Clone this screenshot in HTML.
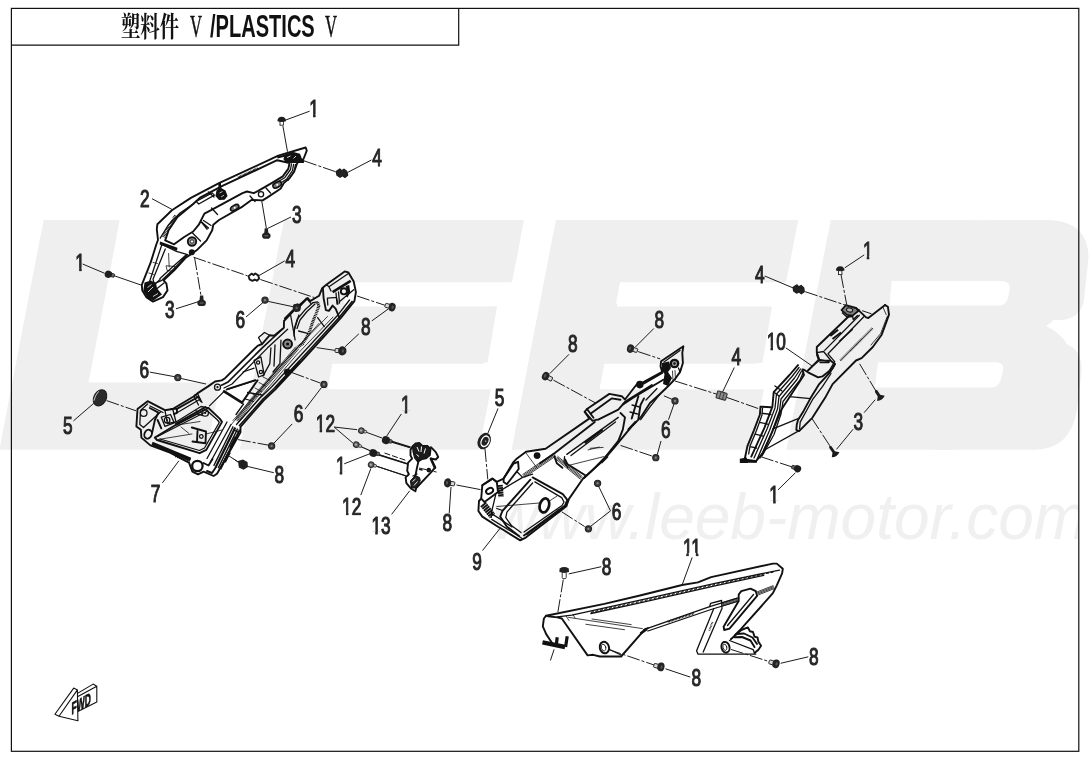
<!DOCTYPE html>
<html lang="zh">
<head>
<meta charset="utf-8">
<title>塑料件 V/PLASTICS V</title>
<style>
html,body{margin:0;padding:0;background:#fff;}
body{width:1090px;height:760px;overflow:hidden;position:relative;font-family:"Liberation Sans","Noto Sans CJK SC",sans-serif;}
svg{position:absolute;left:0;top:0;display:block;will-change:transform;}
.wm{font-family:"Liberation Sans",sans-serif;font-weight:bold;fill:#efefef;stroke:#efefef;stroke-linejoin:miter;}
.url{font-family:"Liberation Sans",sans-serif;font-style:italic;fill:#f0f0f0;}
.lb{font-family:"Liberation Sans",sans-serif;font-size:24px;fill:#262626;stroke:#262626;stroke-width:1.1;}
.p{fill:none;stroke:#111;stroke-width:1.3;stroke-linejoin:round;stroke-linecap:round;}
.pt{fill:none;stroke:#111;stroke-width:0.8;stroke-linejoin:round;stroke-linecap:round;}
.pk{fill:none;stroke:#111;stroke-width:1.9;stroke-linejoin:round;stroke-linecap:round;}
.ld{fill:none;stroke:#1c1c1c;stroke-width:1;}
.dd{fill:none;stroke:#1c1c1c;stroke-width:1;stroke-dasharray:13 2 3 2;}
.f{fill:#111;stroke:none;}
.w{fill:#fff;}
.title{position:absolute;left:120.6px;top:3px;height:46px;line-height:46px;white-space:nowrap;color:#111;will-change:transform;font-size:0;}
.title span{display:inline-block;transform-origin:0 50%;white-space:pre;vertical-align:baseline;line-height:46px;}
.t1{font-family:"Liberation Sans","Noto Serif CJK SC",serif;font-weight:700;font-size:28px;width:69.4px;transform:scaleX(0.69);}
.t2{font-family:"Liberation Serif",serif;font-size:32px;width:19.3px;transform:scaleX(0.52);-webkit-text-stroke:0.6px #111;}
.t3{font-family:"Liberation Sans",sans-serif;font-weight:bold;font-size:31px;width:115.3px;transform:scaleX(0.647);}
</style>
</head>
<body>
<svg width="1090" height="760" viewBox="0 0 1090 760">
<rect x="0" y="0" width="1090" height="760" fill="#fff"/>
<!-- 01_wm.svg -->
<g class="wm" font-size="100" stroke-width="3.98">
<g transform="translate(1.54,427.9) skewX(-10.9)">
<text transform="scale(4.131,2.9375)" x="-4.178 53.98 119.82 186.36" y="0">LEEB</text>
</g>
<g transform="translate(-1.54,443.9) skewX(-10.9)">
<text transform="scale(4.131,2.9375)" x="-4.178 53.98 119.82 186.36" y="0">LEEB</text>
</g>
</g>
<clipPath id="cu"><rect x="400" y="470" width="678.2" height="100"/></clipPath>
<text class="url" x="492" y="538.8" font-size="64" clip-path="url(#cu)">www.leeb-motor.com</text>
<!-- fine trims of the watermark letter shapes (bar ends / counters) -->
<path d="M985 220H1050Q1088.5 222 1088.5 258L1084 300Q1081 318 1062 320H1040V262H985ZM1040 342H1058Q1083 345 1081.5 372L1077 410Q1070 449.7 1035 449.7H935V425H1040Z" fill="#efefef"/>
<path d="M794 220L798.3 220L786 282.3L781.7 282.3Z" fill="#efefef"/>
<path d="M220.5 380L246 380L232 452L206.6 452Z" fill="#fff"/>
<path d="M491.4 386L506 386L493 452L478.6 452ZM764.5 386L779 386L766 452L751.7 452Z" fill="#fff"/>
<path d="M300 277L512.5 277L511.6 282.3L300 282.3ZM572 277L785.5 277L784.6 282.3L572 282.3Z" fill="#efefef"/>
<path d="M345.5 302.5L502 302.5L502 306.4L344.8 306.4ZM617.5 302.5L774 302.5L774 306.4L616.8 306.4Z" fill="#fff"/>
<path d="M80 382.6L219.6 382.6L218.2 390.5L78.6 390.5Z" fill="#efefef"/>
<path d="M888 275H1003V304H884ZM872 358H1004V392H866Z" fill="#efefef"/>
<path d="M891.6 281.1H1002Q1010.8 281.4 1009.6 290L1008 298Q1006.2 305.4 998.5 305.4H889.5ZM878 362.3H996Q1004.6 362.6 1003.2 371L1000.6 380Q998.6 387.6 991 387.6H874.8Z" fill="#fff"/>
<path d="M488 306.4L497 306.4L487.6 362.5L478.6 362.5ZM763 306.4L772 306.4L762.4 363L753.4 363Z" fill="#efefef"/>

<!-- 02_frame.svg -->
<g fill="none" stroke="#111" stroke-width="1.2">
<rect x="11.4" y="8.4" width="1067.4" height="742.9"/>
<path d="M11.4 45.2H458.7V8.4"/>
</g>

<!-- 10_part2.svg -->
<g id="part2">
<path class="pk" stroke-width="1.8" d="M305.7 147.5L278.3 155.7L219 183.1L190.9 197.9L171.9 210.2L157.4 224.2L156.8 229.2L158 240L156.3 244.5L150.7 262.4L141.8 284.8L142.3 290.4L146.3 297.1L153 301.6L163 297.1L167.5 290.4L166.4 283.7L163.6 280.3L174.2 270.3L185.4 258L192.1 253.4L197.6 249.4L206.6 240.4L212.2 230.3L213.3 224.7L219 220L242.5 206.6L251.5 199.9L262.6 200.4L267.1 197.6L280.5 188.7L283.9 183.1L289.5 178.1L294 171.9L297.3 163L303.5 159L306.8 150.7Z"/>
<path class="pk" stroke-width="1.7" d="M289.5 163L288.4 168.6L282.8 176.4L271.6 183.1L258.2 190.9L253.7 193.2L247 191.5L242.5 193.2L211.1 210.2L204.4 213.6L198.8 224.7L193.2 231.5L184.2 237L174.1 244.3L165.2 240.4L168.6 230.3L177.5 216.9L193.2 204L200 197.6L222.4 185.9L277.2 160.2L289.5 163"/>
<path class="p" stroke-width="1.2" d="M291.5 164L290.5 169.5L284.6 177.8L273 184.8M293.6 164.5L292.5 170.5L286.5 179.3L275 186.6M295.5 164.5L294.3 171L288 180.5"/>
<path class="p" stroke-width="1.4" d="M196 201.3L212.2 192.9L214.4 195.1L198.8 204Z"/>
<path d="M175.5 215.5L163 237.5" fill="none" stroke="#111" stroke-width="3" stroke-dasharray="0.8 0.7"/><path class="p" stroke-width="1.5" d="M193.2 204L180 213L168.6 224.7L160.2 238.2"/>
<path d="M238 177.6L258 168.2" fill="none" stroke="#111" stroke-width="2.2" stroke-dasharray="0.8 0.6"/>
<path class="p" stroke-width="1.6" d="M161.9 244.5L148.5 284.8M165.3 249L153 279.2L154.1 283.7L161.9 280.3L174.2 268.5L187.6 254.6M161.9 244.5L176.5 251.3L187.6 254.6M185.5 255.5L172.5 267L160 278.5"/>
<path class="pt" d="M168.6 253.5L169.2 266.9M166.4 265.8L175.3 266.5L173 271.4L167.5 270.5ZM153 262.4L157.5 263.6M148.8 273L153.5 274.4"/><path class="p" stroke-width="1.4" d="M208.4 192L214 197M211.5 208L217.5 214.5M201.5 222L208.5 228M203.5 220.5L211 225.5M192.5 233L200.5 241M250 196L255 201.5M266 188L270.5 193"/>
<path d="M201.5 222L207.5 229.5" fill="none" stroke="#111" stroke-width="1.6"/>
<path class="f" d="M144.5 282.5L151 280.5L156 283.2L157.1 288.4L162 294.5L153.4 300.5L148.2 298.4L143.3 291Z"/>
<path d="M147.5 287.5L151.5 284.5M148 292L153 287M153 296.5L158 293.5" stroke="#fff" stroke-width="0.8" fill="none"/>
<path class="p" stroke-width="1.4" d="M157.1 288.4L164 283M156 283.2L160 279.5"/>
<circle cx="192" cy="241.5" r="4.2" fill="#999" stroke="#111" stroke-width="1.9"/><circle cx="192" cy="241.5" r="1.7" fill="#fff" stroke="#111" stroke-width="0.9"/>
<circle cx="191.8" cy="252.2" r="3" class="f"/>
<path class="f" d="M160 241.5L177.5 247.8L177 250.8L159.6 244.5Z"/>
<path class="f" d="M218.2 183.6L220.9 182.4L221.2 188L225.5 190.5L227.6 196L224.5 199.8L219 200L215.4 196L216.5 190.5L218.6 188.4Z"/><path d="M219.5 193L222.5 191.5M221 197L224 195.2" stroke="#fff" stroke-width="0.7" fill="none"/>
<path class="f" d="M284.8 154.5L292.6 151.8L300 153.8L301.8 158.4L304.6 160.7L303.7 163L290.8 163L285.7 162.1L283.4 159.3Z"/><path d="M287 157.5L290.5 156M293.5 158.5L296 156" stroke="#fff" stroke-width="0.8" fill="none"/>
<path d="M277.3 157.5L287.5 155" fill="none" stroke="#111" stroke-width="2.2"/>
<circle cx="261" cy="194.3" r="2.6" class="p"/>
<ellipse cx="277.2" cy="184.8" rx="4.6" ry="2.6" transform="rotate(-30 277.2 184.8)" fill="#777" stroke="#111" stroke-width="1.6"/>
<ellipse cx="234.7" cy="207.7" rx="4.6" ry="2.4" transform="rotate(-30 234.7 207.7)" fill="#777" stroke="#111" stroke-width="1.6"/>
<circle cx="277.2" cy="184.8" r="1" fill="#fff"/><circle cx="234.7" cy="207.7" r="1" fill="#fff"/>
</g>

<!-- 11_part7.svg -->
<g id="part7">
<path class="pk" stroke-width="1.9" d="M344.7 271.4L348.4 272.5L353.7 281.5L355.9 292.1L354.4 301.1L341.1 317.6L304.5 358L275.4 389.4L264 400L240.5 426.8L240.5 432.4L217 473.8L213.6 476L203.6 471.6L198 474.4L192.4 471.6L189 462.6L170 452.6L150.4 445.4L141.4 437.6L140.9 429.7L136.4 426.4L137.5 409L147.6 401.2L164.9 410.2L172.7 409L194 396.2L197.4 393.4L208.5 386.1L215 381.5L221.7 380.4L225.1 378.2L257.6 345.8L262 344L269.6 335.3L274.1 335.7L283.9 327.8L284 321L297 307L307.8 298.1L310.1 301.1L319.1 295.8L322.1 288.3L326.6 284.6Z"/>
<!-- right rail: dark band + parallels -->
<path d="M352.5 301L339.5 317L303 357L274 388.5L262.5 399.5L239 426" fill="none" stroke="#111" stroke-width="1.5"/>
<path class="p" stroke-width="1.2" d="M349.5 300L337.2 315.8L300.5 355.5L271.5 387L260 398L236.5 424.5"/>
<path class="pt" d="M333 317L296.5 355L262 395L236.5 424.5M327.5 316.5L292 353L257.5 392.5L233 420.5M319 323.4L293.3 352.4L277.6 369.2L251.9 400.5L230 426"/>
<path d="M300 361L276 387.5" fill="none" stroke="#111" stroke-width="2.6"/>
<path d="M298.5 349.1L278.2 373.0L252.2 402.9L238.2 421.9M297.6 348.3L277.3 372.2L251.2 402.2L237.2 421.2M296.7 347.5L276.4 371.4L250.3 401.4L236.3 420.5M295.8 346.7L275.5 370.6L249.4 400.7L235.3 419.8" fill="none" stroke="#111" stroke-width="0.8"/>
<!-- top box -->
<path class="p" stroke-width="1.4" d="M328.9 286.8L347.7 274M353.7 289.8L340.2 301.1M326.6 284.6L328.9 286.8L331 291"/>
<path d="M332.6 292.1L350.7 280.8" fill="none" stroke="#111" stroke-width="2.6"/>
<path class="pk" stroke-width="2" d="M322.9 288.3L323.6 298.1L325.9 310.1L328.9 310.9L332.6 305.6L335.6 308.6L339.4 317.6"/>
<path class="p" stroke-width="1.4" d="M327.4 298.1L336.5 297.3L338 304M327.4 298.1L327.8 305M336 293L337 304M338.5 292L339.5 303"/>
<circle cx="343.9" cy="291.3" r="3.1" class="pk" stroke-width="1.6"/><path class="f" d="M345.6 286L349.2 285L350.2 292L347.6 297.5L345.8 296L347.5 291.5Z"/>
<!-- loop opening near top -->
<path class="p" stroke-width="1.5" d="M313.1 302.6L304.8 310.1L297.3 319L294.5 328L294.1 336M315 304L307 311.5L300 320L297 328.5"/>
<path d="M317.6 302.5L318.8 306L316 314L313.4 320L308.7 333.8L302.7 343.6L297.4 347.5" fill="none" stroke="#111" stroke-width="3" stroke-dasharray="1 0.7"/>
<path class="p" d="M313.1 302.6L317.6 301.8M317.6 317.6L324.3 326.6M298.6 331L307.5 333.3M306.3 298.1L311 303.5M290.6 315L295.1 339.8M298.9 315L294.4 330"/>
<path d="M295 308.6L284.5 319M306.3 299L297 309" fill="none" stroke="#111" stroke-width="2.2"/>
<path class="f" d="M293.5 304.5L298 303.2L301 306.5L300 311L295.5 312L293 309Z"/>
<!-- upper-left wall parallels -->
<path d="M283.1 328.5L262.8 347.3L228 382L221 385.5" fill="none" stroke="#111" stroke-width="1.7"/>
<path class="p" stroke-width="1.1" d="M287.6 329.3L267.3 348.1L232 384L224 388"/>
<path class="p" d="M269.6 335.3L264.5 332.5L258.5 337.5L262 344"/>
<!-- boss -->
<circle cx="287.6" cy="344" r="4.4" fill="#8a8a8a" stroke="#111" stroke-width="2"/><circle cx="287.6" cy="344" r="1.6" class="f"/>
<circle cx="287.3" cy="372.2" r="3.4" class="f"/>
<!-- plate -->
<path class="p" stroke-width="1.5" d="M254.1 360.3L260.9 356.9L264.2 374.8L258.6 377Z"/>
<circle cx="258.1" cy="362.5" r="1.6" class="p"/><circle cx="260.9" cy="372" r="1.6" class="p"/>
<path class="p" d="M243 372L254.1 368.1M226.2 389.9L255.3 380.4M270.9 348L269.8 363.6L263.1 375.9M281 340.1L279.9 363.6L273 372M275 345L274 366"/>
<path class="pt" d="M263 377L270 380.5M259 382.5L265.5 386M255 388L261.5 391.5M251 393L257 396.5"/>
<path d="M224.1 391.4L242 402.6" fill="none" stroke="#111" stroke-width="2.6" stroke-linecap="round"/>
<path class="pk" stroke-width="1.6" d="M242 402.6L257.6 380.2M227.4 389.1L255.4 380.2"/>
<path class="p" d="M224.1 391.4L209.5 405.9M243.5 404L236 414.5M247.6 392.5L262 395M245.5 399L253.5 401.5"/>
<!-- lower body -->
<path class="pk" stroke-width="1.6" d="M154.8 437.6L176 424.8L208.4 408L219.7 418.6L222 421.9L206.3 449.9L199.6 453.2L157 440Z"/>
<path class="p" d="M157.5 436.5L177 426.5L207.5 411L217.5 420L219.3 422.5L204.5 448L199.5 450.5L160 439"/>
<path class="p" stroke-width="1.5" d="M147.6 404L140.5 410.5L139.8 424.5L143.5 427.5M164.9 410.2L167.5 423.5M172.7 409L176 422M194 396.2L198.5 405M197.4 393.4L202 402.5M167.5 423.5L176 422L201 406.5L208.4 408M150 406L163 412.5M143.5 427.5L160.5 412"/>
<path class="pk" stroke-width="1.6" d="M176.9 408.9L198.1 397M176 423.7L205.5 407.1M171.4 408.9L176.9 408.9L177 412.8L174 414"/><path class="p" stroke-width="1.2" d="M177 412.8L200 399.3M194.5 395.1L198.1 397L200.5 401.5"/>
<path class="pk" stroke-width="2.4" d="M149.8 408L158.5 412.6M158 413.5L154.9 420L152.1 432.9M157.6 420L161.3 428.3"/><path class="p" stroke-width="1.5" d="M161.3 417.2L170.5 414.5L174.2 422.8L165 426.4Z"/>
<circle cx="143.7" cy="413" r="3.3" class="p" stroke-width="1.5"/><ellipse cx="148.1" cy="434.2" rx="3.6" ry="4.6" transform="rotate(25 148.1 434.2)" class="pk" stroke-width="1.7"/>
<circle cx="167.1" cy="420.2" r="2.8" class="p" stroke-width="1.5"/><circle cx="167.1" cy="420.2" r="1" class="f"/>
<circle cx="205.2" cy="413" r="3.2" class="p" stroke-width="1.5"/><circle cx="205.2" cy="413" r="1.1" class="f"/><path class="p" d="M202 415.5L197.5 414L196 410.5"/>
<circle cx="217.5" cy="387.2" r="3" class="p" stroke-width="1.5"/><circle cx="217.5" cy="387.2" r="1.1" class="f"/>
<path class="pt" d="M177 425L200 421.5M158 439.5L192 434M206 434L222 430M181 427L189 433.5"/>
<path class="pk" stroke-width="1.7" d="M191.8 427.5L206 431.5L205.5 443.2L192.5 441.5M197.5 431L197 442"/>
<circle cx="201.3" cy="436.5" r="1.8" class="p"/>
<!-- bottom dark band -->
<path d="M152 443.5L190.5 459.5" fill="none" stroke="#111" stroke-width="3.6"/>
<path d="M176 454.5L190 460.5" fill="none" stroke="#111" stroke-width="5.5" stroke-dasharray="1.1 1"/>
<circle cx="197.4" cy="466" r="5.2" fill="#fff" stroke="#111" stroke-width="2.2"/>
<path class="pk" stroke-width="1.8" d="M203.5 463L208.5 465.5L212.5 459M207 471L212 473L216 467"/>
<!-- right block -->
<path d="M239.8 429.7L220.3 469.2" fill="none" stroke="#111" stroke-width="2.0"/><path d="M237.7 428.6L218.2 468.1" fill="none" stroke="#111" stroke-width="1.4"/><path d="M235.3 427.4L215.8 466.9" fill="none" stroke="#111" stroke-width="2.2"/><path d="M233.2 426.4L213.7 465.9" fill="none" stroke="#111" stroke-width="1.3"/><path d="M236 437L230.5 448M229.5 452L224.5 462" stroke="#111" stroke-width="3" fill="none"/>
<path class="p" stroke-width="1.5" d="M231 424.5L210.5 462M227 422L207 458.5M234 430L238 432"/>
</g>

<!-- 12_part9.svg -->
<g id="part9">
<path class="pk" stroke-width="1.6" d="M683.4 346.2L682.3 352.9L682.9 363L680.1 371.9L674.5 379.7L667.8 386.5L660 394L650 403L640.7 417.4L631.7 426.4L614.4 447.4L602.6 461.1L582.9 478.7L569 498.9L566.3 506.3L525.8 537.6L520.2 540.4L503.6 530L498 526.7L482.3 516.6L478.4 511L479 501L481.2 498.7L482.3 485.3L492.4 478.6L496.8 481.9L503.6 478.6L513.6 461.8L517 458.4L526 451.7L545.6 448.8L589.2 418.6L584.7 411.8L587 409L609.4 393.9L621.7 396.2L625 399.5L636.2 385L639.8 384.2L662.2 371.9L660.5 366.3L661.1 361.3Z"/>
<!-- top plate -->
<circle cx="674.5" cy="363.5" r="3.7" fill="#9a9a9a" stroke="#111" stroke-width="2.3"/><circle cx="674.5" cy="363.5" r="1.2" class="f"/>
<path class="f" d="M662 363L669 361.5L671 368L668 372L672 378L668 386L663 384L664.5 374L661.5 370Z"/>
<path class="p" d="M664 362L680 350.5M678.5 368L680 372"/>
<path class="pt" d="M672.5 371L673 381M675 370.5L675.5 379.5"/>
<!-- upper arm -->
<path class="pk" stroke-width="2.2" d="M662.2 373L644 383.5M663.3 379.7L633.1 397.6L623 404.4"/>
<circle cx="639.8" cy="384.6" r="3.8" class="f"/>
<path class="pk" stroke-width="1.9" d="M651.9 385L625 401.8L618.3 409.6L598.2 419.7"/>
<!-- handle loop -->
<path class="pk" stroke-width="1.9" d="M591.5 413L611.6 398.4L620.5 399.8M584.7 411.8L592.6 420.8L597 419.7M587 409L593.5 417.8"/>
<!-- ridge lines -->
<path class="pk" stroke-width="1.7" d="M594.8 421.9L554.5 453.2L540 463.3M620.5 413L625 417.4L622.8 429.7L618.3 440.9L604.9 457.7L592.6 470L584 478"/>
<path class="p" stroke-width="1.4" d="M618.3 417.4L566.8 454.4M615.5 422L571 455.5"/>
<path d="M602.6 429.7L584.7 443.2" fill="none" stroke="#111" stroke-width="2.2"/>
<path class="pt" d="M588.1 449.9L599.3 447.1M570.2 465L603.8 456.6M590.2 448.3L603.1 447.4"/>
<path class="pk" stroke-width="1.7" d="M638.4 396.2L631.7 418.6M644 398.4L640.5 405L638.4 418.6"/>
<path class="p" stroke-width="1.4" d="M660 394L649.6 407.4L640.7 419.7M632 405L639.5 407M630 412L637.5 414M657 388.5L646 400"/>
<path d="M607.5 456L601 462.5" fill="none" stroke="#111" stroke-width="3"/>
<path d="M636 421.5L628 430" fill="none" stroke="#111" stroke-width="2.4"/>
<!-- lower body -->
<path class="pk" stroke-width="2" d="M482.3 485.3L492.4 478.6L496.8 481.9L498 492L484.5 502L481.2 498.7"/>
<ellipse cx="489.6" cy="490.9" rx="3.8" ry="2.6" transform="rotate(-30 489.6 490.9)" class="pk" stroke-width="1.7"/>
<path d="M500 485L501 497" fill="none" stroke="#111" stroke-width="5.5" stroke-dasharray="1.8 0.5"/>
<path d="M483 504L492.5 516" fill="none" stroke="#111" stroke-width="7" stroke-dasharray="1.9 0.5"/>
<path class="pk" stroke-width="1.6" d="M503.6 478.6L513.6 463.5L518.1 461.8L518.7 469L506.9 484.2L503.6 482Z"/>
<path class="p" d="M517 471.8L522.6 477.4L532.6 474.1M498 492L522.6 477.4"/>
<path d="M522.5 474.6L554.0 453.1M523.2 475.5L554.7 454.0M523.8 476.5L555.3 455.0M524.5 477.4L556.0 455.9" fill="none" stroke="#111" stroke-width="0.8"/>
<path d="M557.5 456.2L582.5 476.7M556.8 457.1L581.8 477.6M556.2 457.9L581.2 478.4M555.5 458.8L580.5 479.3" fill="none" stroke="#111" stroke-width="0.8"/>
<path class="pk" stroke-width="1.9" d="M532.6 477.4L562.8 494.2L567.3 499.8L565.1 505.4L524 535.5M530.4 479.7L502.4 511L500.2 516.6L506.9 526.7L519 536"/>
<path class="p" stroke-width="1.5" d="M534.9 481.9L561.7 497.6L564 502L562 505.5L524 532M532.6 483L506.9 512.1L505.8 517.7L511.4 525.5L521 532.5"/>
<ellipse cx="544.4" cy="505.4" rx="4.6" ry="7.2" transform="rotate(15 544.4 505.4)" fill="#fff" stroke="#111" stroke-width="2.7"/>
<path class="pt" d="M496.8 506.5L539.5 503M549.5 501L557.2 495.9"/>
<circle cx="537.1" cy="455.6" r="3.4" class="f"/>
<path class="pt" d="M526 453L537 468"/>
<path class="pk" stroke-width="1.5" d="M554.5 456.6L556.8 463.3L562.4 467.8M565.1 459.5L567.3 464L585.2 475.2"/>
<path class="p" d="M564.6 456.6L564 461.5L568 467.8"/>
<circle cx="558.4" cy="511" r="1.8" class="f"/>
<path class="p" stroke-width="1.5" d="M495.7 494.7L491.7 511.5L491.2 517.4M491.7 519.4L517.4 535.2L522 538.5M492.7 514.4L500 519L512 527M566 505.5L527 534.5M496.7 508.5L502.6 510.5"/>
</g>

<!-- 13_part10.svg -->
<g id="part10">
<!-- main body outline -->
<path class="pk" stroke-width="1.5" d="M885.1 305.1L887.9 306.8L889 314.6L886.2 322.4L881.7 334.7L872.8 347L861.6 358.2L856 360.5L832.6 384.1L825.9 396.4L812.5 417.6L799.1 431.1L796.3 429.9L796.8 424.4L798 419.9L803.6 410.9L810.3 398.6L819.2 384.1L830.4 371.8L834.9 364"/>
<path class="pk" stroke-width="1.5" d="M885.1 305.1L868.3 318L866.1 317.4L856 307.9M849.3 315.7L816.8 347L816.8 352.6L819.1 359.4L808 370.5"/>
<!-- boss box -->
<path d="M841.5 310.1L845.9 305.1L856 307.9L858.3 311L852.6 315.7L847 314.8Z" fill="#808080" stroke="#111" stroke-width="1.7" stroke-linejoin="round"/>
<ellipse cx="849.6" cy="310" rx="3.2" ry="2" transform="rotate(12 849.6 310)" fill="#b5b5b5" stroke="#111" stroke-width="1"/>
<path d="M842 312.5L847 317L853 316.5" fill="none" stroke="#111" stroke-width="1.3"/>
<path class="p" d="M852.6 315.7L853.2 319.5L857.5 315.5"/>
<!-- channel lines -->
<path class="p" d="M859.4 315.2L824.7 350.4M863.8 316.8L828 353.8L834.7 361.6L828 372.8M816.8 352.6L823.6 351.5L830.5 360M819.1 359.4L829.1 361.6"/>
<path d="M830.3 335.9L838.1 329.7M832.5 339L841 332.5" fill="none" stroke="#111" stroke-width="2"/>
<path d="M839.2 341.5L852.6 329.1" fill="none" stroke="#111" stroke-width="1.6"/>
<path d="M840.3 360.5L872.8 328" fill="none" stroke="#111" stroke-width="2.2" stroke-dasharray="0.8 0.6"/>
<path class="pt" d="M882.8 306.8L886.2 314.6M887.3 316.3L880.6 333.6L871 345"/>
<!-- step/notch -->
<path class="pk" stroke-width="1.6" d="M817 355L819.2 360.6L830.4 360.6L834.9 364L832.6 368.4L822.6 376.3L818.1 377.4L808 372.3L803.6 369.5"/>
<path class="p" d="M812.5 366.2L819.2 360.6M808 370.5L812.5 366.2M820 362.5L829 362.5"/>
<!-- inner line lower body -->
<path class="p" d="M831 373.5L822.6 386.3L812.5 399.7L800.2 422.1L799.6 428.8"/>
<!-- fin band -->
<path class="pk" stroke-width="2.2" d="M798 365.1L789.5 375L773.7 392.1L772.4 406.6L764.5 427.6L751.3 456.6"/>
<path class="pk" stroke-width="1.9" d="M802.4 369.5L804 375L781.6 409.2L768.4 440.8L763.2 452.6L755.3 461.8L746.7 461.8"/>
<path class="p" stroke-width="1.15" d="M799 367.5L792 376.5L776.5 394L775 408L767 429L754 458M800.5 369L794.5 378L779 396.5L777.5 409L769.5 430.5L757 459.5M801.5 371L797 379.5L781 399L779.5 411L772 432L760 458M803 373L800 380L783 401.5L781 414L774 434.5L762 456"/>
<path class="p" d="M773.7 392.1L779 396M775 386L782 391"/>
<!-- ladder -->
<path class="pk" stroke-width="1.7" d="M771.1 407.2L760.5 406.6L759.9 414.5L753.9 430.3L747.4 446.1L744.7 459.2"/>
<path class="p" d="M762.5 407.9L762 415L756.6 430.3L750 446L748.7 453.9M761.8 413.2L771 414.5M759.9 422.4L768.4 424.3M755.3 434.2L763.2 436.2M750 446.7L756.6 448"/>
<path class="f" d="M739.8 458.8L746.7 457.5L748 463L739.8 463Z"/><path d="M746 460L757 461.5" stroke="#111" stroke-width="2.4" fill="none"/>
<!-- connectors fin-body -->
<path class="p" d="M789.5 396.7L810.5 398.7M773 428.9L798.7 418.4M764.5 450L798.7 430.9"/>
</g>

<!-- 14_part11.svg -->
<g id="part11">
<!-- top edge -->
<path class="pk" stroke-width="1.5" d="M546.2 615.7L604.4 603.9L640 595.5L682.1 585L697.9 582.4L711.1 577.1L772.9 563.6L776.8 563.6L782.8 568.8L782.1 573.4L776.8 585.3L772.9 593.2L741.3 628.7L734.7 635.3"/>
<path class="p" d="M557.4 616.8L571.9 615.1L640 600.1L715 583.3L779.5 570.1M590.9 613.5L640 602.8L715 585.9L763.7 575.4"/>
<path d="M590.9 612.3L640 601.5L715 584.6L775 571.6" fill="none" stroke="#111" stroke-width="1.2" stroke-dasharray="3 1.6"/>
<!-- left end -->
<path class="pk" stroke-width="1.7" d="M546.2 615.7L543.9 618.5L542.8 626.3L546.2 634.1L552.9 644.2"/>
<path d="M542.5 642.4L565 647" fill="none" stroke="#111" stroke-width="4.4"/><path d="M557.2 637.2L556.3 645M567.2 636.2L565.6 647" fill="none" stroke="#111" stroke-width="3.2"/>
<!-- V edge -->
<path class="pk" stroke-width="2.7" d="M548 616.3L557.4 617.4L561.8 618.5L587.6 655.4L593.2 654.8L599.9 656.5L621.1 656.5L644.6 629.7L648 628"/>
<path class="pt" d="M568.6 617.4L642.4 628.6M592 619L631.2 624.6M585.9 624.3L624.5 629.7M566 616L569 620.5M573 614.5L575 618"/>
<ellipse cx="604.4" cy="647.6" rx="4.6" ry="5.8" transform="rotate(-15 604.4 647.6)" fill="#fff" stroke="#111" stroke-width="2"/>
<ellipse cx="603.6" cy="647.6" rx="2.2" ry="3.4" transform="rotate(-15 603.6 647.6)" class="pt"/>
<path class="p" d="M609.5 649.5L621 655"/>
<!-- lower rail -->
<path class="p" d="M643.9 629.7L709.7 606.7L737.4 598.2M647.9 631L711 609.5L737 601.5"/>
<path d="M667.6 621.8L693.9 613.3" fill="none" stroke="#111" stroke-width="2.2" stroke-dasharray="0.8 0.7"/>
<path d="M640.5 633.5L647 629" fill="none" stroke="#111" stroke-width="2.6"/>
<path class="p" d="M709.7 606.7L710.5 603.4L721.6 600.5L722 608.7"/>
<path d="M721.5 602.9L737.5 597.9M721.8 604.0L737.8 599.0M722.2 605.0L738.2 600.0M722.5 606.1L738.5 601.1" fill="none" stroke="#111" stroke-width="0.8"/><path d="M756.9 592.0L773.4 585.5M757.3 593.0L773.8 586.5M757.7 594.0L774.2 587.5M758.1 595.0L774.6 588.5" fill="none" stroke="#111" stroke-width="0.8"/>
<!-- strut -->
<path class="p" d="M713.7 608.7L696.6 650.8L697.9 654.1L703.2 654.1L755.8 654.1M721.6 609.3L703.2 652.1"/>
<path d="M712.5 622L709 631" fill="none" stroke="#111" stroke-width="1.8" stroke-dasharray="0.7 0.7"/>
<!-- slot loop -->
<path class="pk" stroke-width="2" d="M738.7 594.5L741.3 591.2L750.5 588.6L755.8 591.2L757.1 595.8L729.5 628.7L724.2 630L723.6 626.7L738.7 601.1Z"/>
<path class="p" d="M753.5 594.5L727.5 625.5"/>
<!-- gear -->
<path class="pk" stroke-width="1.5" d="M730.8 639.2L741.3 630L747.9 627.4L749.9 631.3L753 632L754.5 636.6L757.5 637.5L758.4 641.8L761.1 645.8L758.4 649.7L754.5 653"/>
<path class="pk" stroke-width="1.8" d="M734.7 637.2L742 637L750.5 640.5L754.5 647.1M736.5 634L744 633.5L752.5 637.5L757 644"/>
<path class="p" d="M729.5 640.5L753.2 649.7L754.5 653"/>
<ellipse cx="725.5" cy="647.3" rx="4" ry="5.4" transform="rotate(-15 725.5 647.3)" fill="#fff" stroke="#111" stroke-width="2"/>
<ellipse cx="724.9" cy="647.3" rx="1.9" ry="3.2" transform="rotate(-15 724.9 647.3)" class="pt"/>
</g>

<!-- 15_part13.svg -->
<g id="part13">
<path class="pk" stroke-width="1.5" d="M412.5 446.4L410.5 449.7L410.5 455.4L412.1 458.7L408.1 462.7L407.2 470.9L408.9 474.2L405.6 477.4L406.4 483.1L411.3 488.8L415.4 491.3L416.2 488L431.7 471.7L435 467.6"/>
<path d="M412.5 446L415.4 443.2L419.5 442.7L422.7 445.6L427.6 445.6L430.9 448.9L430.1 455.4L426 458.7L421.9 459.5L417.8 462L414.6 457.8L413 451.3Z" fill="#1a1a1a" stroke="#111" stroke-width="1.2" stroke-linejoin="round"/>
<path d="M417 447L419 451.5M421.5 446.5L421 452M425.5 448.5L424 453.5M416.5 454.5L419 456.5" stroke="#fff" stroke-width="1" fill="none"/>
<path class="pk" stroke-width="1.6" d="M430.9 447.2L435.8 452.1L438.2 457L435.8 459.5L431.7 458.7"/>
<path d="M430.9 458.7L435 467.6" fill="none" stroke="#111" stroke-width="2.6" stroke-linecap="round"/>
<path class="pk" stroke-width="1.9" d="M418.7 460.3L417 467.6L415.4 475.8L411.3 482.3"/>
<path class="p" d="M419.5 469.3L422 470M413 476L417 474"/>
<path d="M410.5 480.7L415.4 475.8L419.5 477.4L420.3 480.7L416.2 488L411.3 488Z" fill="#222" stroke="#111" stroke-width="1"/>
<path d="M412.5 481.5L415.5 479M414 485.5L417.5 481.5" stroke="#fff" stroke-width="0.9" fill="none"/>
<circle cx="428.8" cy="470.1" r="2.3" class="f"/>
<path class="dd" d="M419 468L437.6 472.3" stroke-dasharray="5 2"/>
<path d="M390.3 441.3L410.5 447.4" stroke="#111" stroke-width="2" fill="none"/>
<path d="M379.1 454.9L407.1 463.8" stroke="#111" stroke-width="1.6" fill="none"/>
<path d="M384.5 453L407.1 460.8" stroke="#111" stroke-width="1" stroke-dasharray="6 2" fill="none"/>
<path d="M359.5 446L370.2 450.8M375.8 465.9L406 475.9" stroke="#111" stroke-width="1.1" fill="none"/>
</g>

<!-- 16_fwd.svg -->
<g id="fwd">
<path d="M54.9 714.3L73.7 688.1L77.4 689.9L59 716.2ZM59 716.2L77.4 689.9L77.9 720.8ZM77.9 693.1L93.1 684.1L96.8 686.2L77.9 696.6M96.8 686.2L96.8 701.9L77.9 711.6" fill="none" stroke="#111" stroke-width="1.1" stroke-linejoin="round"/>
<text transform="translate(71.6,714.8) skewY(-29) scale(0.5,1)" font-family="'Liberation Sans',sans-serif" font-weight="bold" font-size="17" fill="#111" stroke="#111" stroke-width="0.7">FWD</text>
</g>

<!-- 40_leaders.svg -->
<path class="ld" d="M309.6 111.2L284.7 120.4M282.9 126.0L287.5 151.7M152.0 198.7L172.4 209.7M291.0 217.0L267.5 228.5M261.7 200.5L266.3 228.0M371.4 160.0L347.5 172.5M82.6 264.0L104.7 273.3M114.0 275.7L141.5 285.2M284.7 260.9L258.9 275.6M176.0 308.8L198.0 301.8M246.0 317.0L263.0 302.5M268.1 301.4L293.9 306.9M371.8 320.9L388.4 308.9M358.9 333.8L345.1 346.7M316.6 347.6L335.0 350.4M149.8 372.1L174.7 376.7M181.1 378.5L206.0 384.0M73.4 420.9L93.7 403.4M162.4 482.9L178.9 460.8M273.8 472.7L247.0 466.3M237.9 461.7L227.7 455.2M292.2 423.9L273.8 443.3M305.0 409.2L321.5 387.5M334.1 427.0L357.1 429.7M334.1 427.0L353.4 443.5M401.3 414.0L386.6 436.2M390.2 441.1L410.5 447.8M364.5 431.6L382.0 438.0M344.2 463.8L370.0 453.7M379.2 454.6L406.8 463.8M360.8 495.1L370.9 468.4M374.6 465.6L405.9 475.8M391.6 514.4L409.7 490.8M498.0 408.5L487.8 433.4M449.2 513.5L451.0 486.8M456.5 485.0L480.5 489.6M482.5 550.5L500.0 528.4M610.5 510.9L598.5 486.0M610.5 510.9L591.0 526.0M601.3 566.7L568.8 573.9M569.0 354.3L549.7 373.7M653.8 328.5L635.4 347.0M668.5 419.7L674.0 404.0M734.3 367.5L722.4 392.4M764.7 276.0L793.3 288.0M864.2 254.9L844.8 267.8M785.9 347.9L812.6 366.3M864.2 412.6L875.2 399.7M853.1 429.2L836.5 449.4M778.0 489.9L795.5 472.7M692.2 557.4L682.1 585.0M661.0 441.0L657.3 454.5M690.3 677.1L665.5 668.8M808.3 656.8L780.6 663.3"/>
<path class="dd" d="M304.2 160.9L336.4 172.0M193.5 257.2L247.5 275.8M260.4 279.5L314.2 297.5M194.5 257.2L200.9 295.0M357.1 296.0L384.7 305.2M291.7 372.5L320.2 383.0M106.6 400.6L136.0 410.8M237.9 439.6L268.2 445.1M485.0 449.0L487.8 479.4M553.4 380.1L595.8 403.1M638.1 351.6L660.2 358.9M663.9 395.8L672.2 399.4M675.0 381.0L716.8 394.2M727.0 397.5L759.2 408.9M561.7 511.8L584.7 526.6M841.1 275.1L846.7 304.6M805.2 291.7L871.5 313.8M859.6 363.8L876.1 391.4M811.7 418.1L831.0 447.6M761.0 456.8L792.3 467.0M563.3 579.5L557.8 612.6M620.5 445.4L651.9 456.0M554.1 649.4L550.4 660.5M608.4 649.4L654.4 665.1M730.9 649.4L768.7 661.4"/>
<!-- 45_fasteners.svg -->
<g id="fasteners">
<g transform="translate(545.6,376.1) rotate(28)"><rect x="2" y="-2" width="5.2" height="4" rx="0.8" fill="#d8d8d8" stroke="#222" stroke-width="0.9"/><ellipse cx="0" cy="0" rx="3.5" ry="4.3" fill="#242424"/><ellipse cx="-0.6" cy="0" rx="1.1" ry="1.8" fill="#555"/></g>
<g transform="translate(630.5,348.6) rotate(17)"><rect x="2" y="-2" width="5.2" height="4" rx="0.8" fill="#d8d8d8" stroke="#222" stroke-width="0.9"/><ellipse cx="0" cy="0" rx="3.5" ry="4.3" fill="#242424"/><ellipse cx="-0.6" cy="0" rx="1.1" ry="1.8" fill="#555"/></g>
<g transform="translate(447.6,482.8) rotate(10)"><rect x="2" y="-2" width="5.2" height="4" rx="0.8" fill="#d8d8d8" stroke="#222" stroke-width="0.9"/><ellipse cx="0" cy="0" rx="3.6" ry="4.6" fill="#242424"/><ellipse cx="-0.6" cy="0" rx="1.1" ry="1.8" fill="#555"/></g>
<g transform="translate(392.1,307.1) rotate(196)"><rect x="2" y="-2" width="5.2" height="4" rx="0.8" fill="#d8d8d8" stroke="#222" stroke-width="0.9"/><ellipse cx="0" cy="0" rx="3.5" ry="4.3" fill="#242424"/><ellipse cx="-0.6" cy="0" rx="1.1" ry="1.8" fill="#555"/></g>
<g transform="translate(342.3,350.9) rotate(184)"><rect x="2" y="-2" width="5.2" height="4" rx="0.8" fill="#d8d8d8" stroke="#222" stroke-width="0.9"/><ellipse cx="0" cy="0" rx="4.2" ry="4.6" fill="#242424"/><ellipse cx="-0.6" cy="0" rx="1.1" ry="1.8" fill="#555"/></g>
<g transform="translate(660.9,666.9) rotate(193)"><rect x="2" y="-2" width="5.2" height="4" rx="0.8" fill="#d8d8d8" stroke="#222" stroke-width="0.9"/><ellipse cx="0" cy="0" rx="3.6" ry="4.4" fill="#242424"/><ellipse cx="-0.6" cy="0" rx="1.1" ry="1.8" fill="#555"/></g>
<g transform="translate(776.0,663.8) rotate(197)"><rect x="2" y="-2" width="5.2" height="4" rx="0.8" fill="#d8d8d8" stroke="#222" stroke-width="0.9"/><ellipse cx="0" cy="0" rx="3.6" ry="4.4" fill="#242424"/><ellipse cx="-0.6" cy="0" rx="1.1" ry="1.8" fill="#555"/></g>
<path d="M238 461L243 459.5L247.5 462L248 467L243.5 469.8L238.8 467.5Z" fill="#1e1e1e"/><path d="M233.5 458.8L238.5 462.5" stroke="#222" stroke-width="1"/>
<g transform="translate(564.2,569.3)"><rect x="-2" y="2.5" width="4" height="6.8" rx="1" fill="#fff" stroke="#222" stroke-width="0.9"/><path d="M-4.8 2.8L-4.6 -0.8Q0 -3.6 4.6 -0.8L4.8 2.8Q0 4.4 -4.8 2.8Z" fill="#222"/></g>
<circle cx="265.0" cy="300.1" r="3.1" fill="#3c3c3c" stroke="#222" stroke-width="1.1"/><circle cx="265.0" cy="300.1" r="1.1" fill="#8a8a8a"/>
<circle cx="177.8" cy="377.6" r="3.1" fill="#3c3c3c" stroke="#222" stroke-width="1.1"/><circle cx="177.8" cy="377.6" r="1.1" fill="#8a8a8a"/>
<circle cx="271.6" cy="446.0" r="3.1" fill="#3c3c3c" stroke="#222" stroke-width="1.1"/><circle cx="271.6" cy="446.0" r="1.1" fill="#8a8a8a"/>
<circle cx="323.9" cy="384.4" r="3.1" fill="#3c3c3c" stroke="#222" stroke-width="1.1"/><circle cx="323.9" cy="384.4" r="1.1" fill="#8a8a8a"/>
<circle cx="597.6" cy="483.3" r="3.1" fill="#3c3c3c" stroke="#222" stroke-width="1.1"/><circle cx="597.6" cy="483.3" r="1.1" fill="#8a8a8a"/>
<circle cx="588.4" cy="528.8" r="3.1" fill="#3c3c3c" stroke="#222" stroke-width="1.1"/><circle cx="588.4" cy="528.8" r="1.1" fill="#8a8a8a"/>
<circle cx="675.0" cy="400.9" r="3.1" fill="#3c3c3c" stroke="#222" stroke-width="1.1"/><circle cx="675.0" cy="400.9" r="1.1" fill="#8a8a8a"/>
<circle cx="655.8" cy="457.7" r="3.1" fill="#3c3c3c" stroke="#222" stroke-width="1.1"/><circle cx="655.8" cy="457.7" r="1.1" fill="#8a8a8a"/>
<circle cx="296.6" cy="307.9" r="3.3" fill="#2a2a2a" stroke="#222" stroke-width="1.1"/><circle cx="296.6" cy="307.9" r="1.1" fill="#666"/>
<g transform="translate(108.4,274.2) rotate(15)"><rect x="2" y="-1.7" width="4.2" height="3.4" rx="0.7" fill="#666" stroke="#222" stroke-width="0.8"/><circle cx="0" cy="0" r="3.7" fill="#1e1e1e"/></g>
<g transform="translate(385.9,440.1) rotate(15)"><rect x="2" y="-1.7" width="4.2" height="3.4" rx="0.7" fill="#666" stroke="#222" stroke-width="0.8"/><circle cx="0" cy="0" r="4.0" fill="#1e1e1e"/></g>
<g transform="translate(373.2,453.0) rotate(10)"><rect x="2" y="-1.7" width="4.2" height="3.4" rx="0.7" fill="#666" stroke="#222" stroke-width="0.8"/><circle cx="0" cy="0" r="3.9" fill="#1e1e1e"/></g>
<g transform="translate(797.6,468.8) rotate(200)"><rect x="2" y="-1.7" width="4.2" height="3.4" rx="0.7" fill="#666" stroke="#222" stroke-width="0.8"/><circle cx="0" cy="0" r="3.6" fill="#1e1e1e"/></g>
<g transform="translate(281.7,119.6)"><rect x="-1.7" y="1" width="3.4" height="4.6" fill="#fff" stroke="#222" stroke-width="0.9"/><path d="M-4.3 1.6Q-4.2 -2.6 0 -2.8Q4.2 -2.6 4.3 1.6Q0 3 -4.3 1.6Z" fill="#1e1e1e"/></g>
<g transform="translate(840.2,269.0)"><rect x="-1.7" y="1" width="3.4" height="4.6" fill="#fff" stroke="#222" stroke-width="0.9"/><path d="M-4.3 1.6Q-4.2 -2.6 0 -2.8Q4.2 -2.6 4.3 1.6Q0 3 -4.3 1.6Z" fill="#1e1e1e"/></g>
<g transform="translate(266.3,233.6)"><path d="M-1.6 -5.4L1.6 -5.4L2 -1L4.2 0.8L4.2 3.4L2.6 5.2L-2.6 5.2L-4.2 3.4L-4.2 0.8L-2 -1Z" fill="#222"/><path d="M-2 2.2L2 2.2" stroke="#888" stroke-width="0.8"/></g>
<g transform="translate(201.6,300.8)"><path d="M-1.6 -5.4L1.6 -5.4L2 -1L4.2 0.8L4.2 3.4L2.6 5.2L-2.6 5.2L-4.2 3.4L-4.2 0.8L-2 -1Z" fill="#222"/><path d="M-2 2.2L2 2.2" stroke="#888" stroke-width="0.8"/></g>
<g transform="translate(875.2,389.8) rotate(56.5)"><path d="M0 0L1.6 -1.4L6.9 -1.5L10.3 -4.6Q13.1 0 10.3 4.6L6.9 1.5L1.6 1.4Z" fill="#1c1c1c"/></g>
<g transform="translate(829.4,445.6) rotate(56.0)"><path d="M0 0L1.6 -1.4L7.7 -1.5L11.1 -4.6Q13.9 0 11.1 4.6L7.7 1.5L1.6 1.4Z" fill="#1c1c1c"/></g>
<g transform="translate(342.0,173.2) rotate(20) scale(1.00)"><path d="M-6 0.5L-3.5 -3.2L-1 -2.2L0.5 -4.4L4 -3.2L6 0L4.2 3L1.5 2.2L-0.5 4.4L-4 3.6Z" fill="#222" stroke="#1e1e1e" stroke-width="1.3" stroke-linejoin="round"/></g>
<g transform="translate(253.9,277.2) rotate(15) scale(0.9)"><path d="M-6 0.5L-3.5 -3.2L-1 -2.2L0.5 -4.4L4 -3.2L6 0L4.2 3L1.5 2.2L-0.5 4.4L-4 3.6Z" fill="#fff" stroke="#1a1a1a" stroke-width="2.1" stroke-linejoin="round"/></g>
<g transform="translate(798.8,289.3) rotate(25) scale(1.00)"><path d="M-6 0.5L-3.5 -3.2L-1 -2.2L0.5 -4.4L4 -3.2L6 0L4.2 3L1.5 2.2L-0.5 4.4L-4 3.6Z" fill="#222" stroke="#1e1e1e" stroke-width="1.3" stroke-linejoin="round"/></g>
<g transform="translate(721.6,395.6) rotate(15)"><rect x="-5" y="-3.6" width="10" height="7.2" rx="1" fill="#8a8a8a" stroke="#333" stroke-width="1.1"/><path d="M-1.5 -3.6V3.6M1.8 -3.6V3.6" stroke="#333" stroke-width="0.8"/></g>
<g transform="translate(100.0,397.8) rotate(28)"><ellipse cx="0" cy="0" rx="6.2" ry="8.6" fill="#2b2b2b" stroke="#1a1a1a" stroke-width="1"/><path d="M-4.2 -5Q-5.6 0 -4 5.4" fill="none" stroke="#ddd" stroke-width="0.8"/></g>
<g transform="translate(484.2,441.1) rotate(25)"><ellipse cx="0" cy="0" rx="6.3" ry="8.6" fill="#222"/><ellipse cx="0.9" cy="-0.2" rx="4.4" ry="6.2" fill="#fff"/><ellipse cx="0.9" cy="-0.2" rx="3.1" ry="4.7" fill="#222"/><circle cx="1.3" cy="-0.6" r="0.8" fill="#aaa"/></g>
<g transform="translate(361.3,430.6) rotate(15)"><rect x="1.8" y="-1.3" width="3.6" height="2.6" rx="0.6" fill="#ccc" stroke="#333" stroke-width="0.8"/><circle cx="0" cy="0" r="2.8" fill="#666" stroke="#2a2a2a" stroke-width="1"/><circle cx="-0.3" cy="0" r="1" fill="#bbb"/></g>
<g transform="translate(356.2,444.6) rotate(20)"><rect x="1.8" y="-1.3" width="3.6" height="2.6" rx="0.6" fill="#ccc" stroke="#333" stroke-width="0.8"/><circle cx="0" cy="0" r="2.8" fill="#666" stroke="#2a2a2a" stroke-width="1"/><circle cx="-0.3" cy="0" r="1" fill="#bbb"/></g>
<g transform="translate(371.1,464.7) rotate(15)"><rect x="1.8" y="-1.3" width="3.6" height="2.6" rx="0.6" fill="#ccc" stroke="#333" stroke-width="0.8"/><circle cx="0" cy="0" r="2.8" fill="#666" stroke="#2a2a2a" stroke-width="1"/><circle cx="-0.3" cy="0" r="1" fill="#bbb"/></g>
</g>
<!-- 50_labels.svg -->
<clipPath id="c1"><path d="M-20 -30H20V-2.75H2.1V1H-1.25V-2.75H-20Z"/></clipPath><clipPath id="c1x"><path d="M-20 -30H20V1H0V-2.75H-4.6V1H-7.9V-2.75H-20Z"/></clipPath><clipPath id="c11"><path d="M-20 -30H20V-2.75H8.8V1H5.4V-2.75H-4.6V1H-7.9V-2.75H-20Z"/></clipPath>
<g class="lb" text-anchor="middle">
<text transform="translate(314.0,116.8) scale(0.72,1)" clip-path="url(#c1)">1</text>
<text transform="translate(377.0,165.6) scale(0.72,1)">4</text>
<text transform="translate(144.7,207.1) scale(0.72,1)">2</text>
<text transform="translate(296.7,222.9) scale(0.72,1)">3</text>
<text transform="translate(80.1,270.6) scale(0.72,1)" clip-path="url(#c1)">1</text>
<text transform="translate(290.2,266.5) scale(0.72,1)">4</text>
<text transform="translate(169.9,318.2) scale(0.72,1)">3</text>
<text transform="translate(240.3,327.8) scale(0.72,1)">6</text>
<text transform="translate(365.8,334.8) scale(0.72,1)">8</text>
<text transform="translate(144.3,377.7) scale(0.72,1)">6</text>
<text transform="translate(67.9,433.9) scale(0.72,1)">5</text>
<text transform="translate(298.6,422.2) scale(0.72,1)">6</text>
<text transform="translate(155.5,502.2) scale(0.72,1)">7</text>
<text transform="translate(279.3,483.0) scale(0.72,1)">8</text>
<text transform="translate(325.4,431.7) scale(0.72,1)" clip-path="url(#c1x)">12</text>
<text transform="translate(405.7,413.2) scale(0.72,1)" clip-path="url(#c1)">1</text>
<text transform="translate(340.7,474.1) scale(0.72,1)" clip-path="url(#c1)">1</text>
<text transform="translate(351.7,514.5) scale(0.72,1)" clip-path="url(#c1x)">12</text>
<text transform="translate(381.0,534.2) scale(0.72,1)" clip-path="url(#c1x)">13</text>
<text transform="translate(447.3,530.8) scale(0.72,1)">8</text>
<text transform="translate(499.5,406.2) scale(0.72,1)">5</text>
<text transform="translate(477.0,570.0) scale(0.72,1)">9</text>
<text transform="translate(616.5,520.2) scale(0.72,1)">6</text>
<text transform="translate(572.7,351.7) scale(0.72,1)">8</text>
<text transform="translate(659.3,327.7) scale(0.72,1)">8</text>
<text transform="translate(665.7,438.2) scale(0.72,1)">6</text>
<text transform="translate(736.2,365.2) scale(0.72,1)">4</text>
<text transform="translate(759.7,282.6) scale(0.72,1)">4</text>
<text transform="translate(867.7,258.7) scale(0.72,1)" clip-path="url(#c1)">1</text>
<text transform="translate(776.3,349.8) scale(0.72,1)" clip-path="url(#c1x)">10</text>
<text transform="translate(858.2,430.0) scale(0.72,1)">3</text>
<text transform="translate(774.1,503.2) scale(0.72,1)" clip-path="url(#c1)">1</text>
<text transform="translate(692.0,555.6) scale(0.72,1)" clip-path="url(#c11)">11</text>
<text transform="translate(606.6,575.2) scale(0.72,1)">8</text>
<text transform="translate(696.4,686.4) scale(0.72,1)">8</text>
<text transform="translate(813.8,665.2) scale(0.72,1)">8</text>
</g>
</svg>
<div class="title"><span class="t1">塑料件 </span><span class="t2">V</span><span class="t3">/PLASTICS </span><span class="t2">V</span></div>
</body>
</html>
